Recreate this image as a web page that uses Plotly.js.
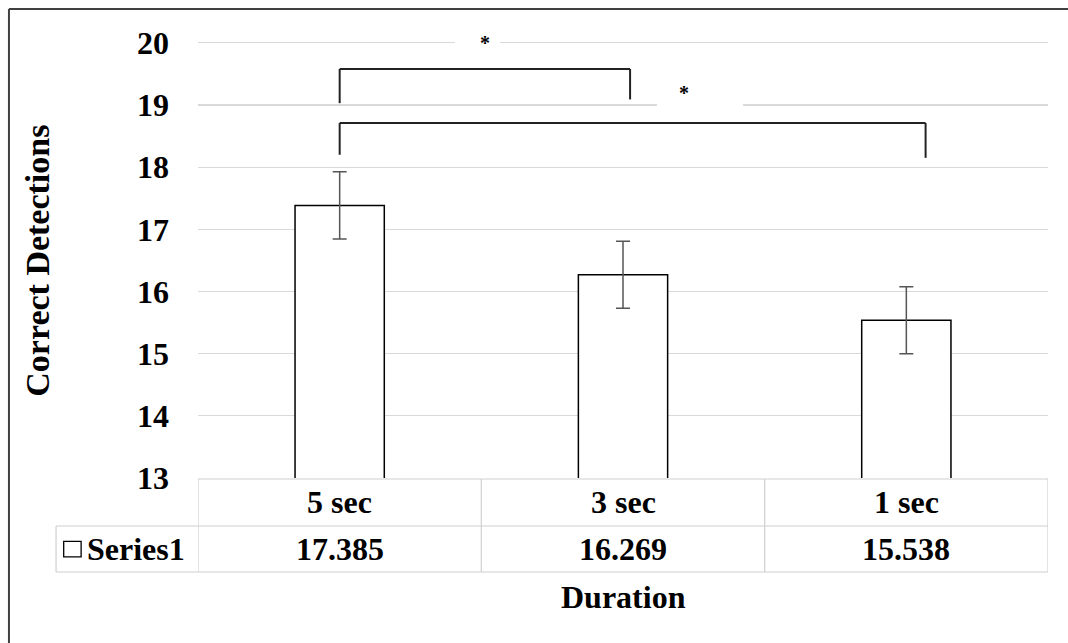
<!DOCTYPE html>
<html>
<head>
<meta charset="utf-8">
<script src="https://cdn.plot.ly/plotly-3.0.1.min.js"></script>
<style>html,body{margin:0;padding:0;background:#fff;}#chart{width:1068px;height:643px;}</style>
</head>
<body>
<div id="chart"></div>
<script>
// ---- data ----
const categories = ['5 sec', '3 sec', '1 sec'];
const means = [17.385, 16.269, 15.538];
const errors = [0.54, 0.54, 0.54];
const yTickVals = [13, 14, 15, 16, 17, 18, 19, 20];
const seriesName = 'Series1';
const yTitle = 'Correct Detections';
const xTitle = 'Duration';
// significance brackets: from category index a to b (drawn at these y levels), star label
const bracketFrom = [0, 0];
const bracketTo = [1.025, 2.068];
const bracketTop = [19.58, 18.71];
const bracketLeftEnd = [19.03, 18.2];
const bracketRightEnd = [19.09, 18.15];
const starText = ['*', '*'];
const starX = [0.513, 1.215];
const starY = [20.0, 19.2];
const gapX0 = [0.407, 1.12];
const gapX1 = [0.566, 1.424];
const gapY = [20, 19];

const FONT = 'Times New Roman, Liberation Serif, serif';
const GRID = '#d9d9d9';
const TABLE = '#d0d0d0';

const trace = {
  type: 'bar',
  x: categories,
  y: means,
  width: 0.315,
  marker: {color: '#ffffff', line: {color: '#000000', width: 1.5}},
  error_y: {type: 'data', array: errors, visible: true, color: '#555555', thickness: 1.5, width: 7},
  hoverinfo: 'none',
  showlegend: false
};

const shapes = [];
const annotations = [];

// outer chart frame (left + top)
shapes.push({type: 'line', xref: 'paper', yref: 'paper', x0: -0.2224, x1: -0.2224, y0: 1.0732, y1: -0.38, line: {color: '#404040', width: 2}});
shapes.push({type: 'line', xref: 'paper', yref: 'paper', x0: -0.2224, x1: 1.03, y0: 1.0732, y1: 1.0732, line: {color: '#404040', width: 2}});

// gridline gaps behind stars
for (let i = 0; i < gapY.length; i++) {
  shapes.push({type: 'rect', xref: 'x', yref: 'y', layer: 'between', x0: gapX0[i], x1: gapX1[i], y0: gapY[i] - 0.06, y1: gapY[i] + 0.025, fillcolor: '#ffffff', line: {width: 0}});
}

// brackets
for (let i = 0; i < bracketFrom.length; i++) {
  const ln = {color: '#222222', width: 2};
  shapes.push({type: 'line', xref: 'x', yref: 'y', x0: bracketFrom[i], x1: bracketFrom[i], y0: bracketLeftEnd[i], y1: bracketTop[i], line: ln});
  shapes.push({type: 'line', xref: 'x', yref: 'y', x0: bracketFrom[i], x1: bracketTo[i], y0: bracketTop[i], y1: bracketTop[i], line: ln});
  shapes.push({type: 'line', xref: 'x', yref: 'y', x0: bracketTo[i], x1: bracketTo[i], y0: bracketTop[i], y1: bracketRightEnd[i], line: ln});
  annotations.push({xref: 'x', yref: 'y', x: starX[i], y: starY[i], text: '<b>' + starText[i] + '</b>', showarrow: false, font: {family: FONT, size: 20, color: '#000'}, xanchor: 'center', yanchor: 'middle'});
}

// data table
const rowTop = -0.0023, rowMid = -0.1098, rowBot = -0.2151, labLeft = -0.167;
const tl = {color: TABLE, width: 1.2};
shapes.push({type: 'line', xref: 'paper', yref: 'paper', x0: 0, x1: 1, y0: rowTop, y1: rowTop, line: tl});
shapes.push({type: 'line', xref: 'paper', yref: 'paper', x0: labLeft, x1: 1, y0: rowMid, y1: rowMid, line: tl});
shapes.push({type: 'line', xref: 'paper', yref: 'paper', x0: labLeft, x1: 1, y0: rowBot, y1: rowBot, line: tl});
shapes.push({type: 'line', xref: 'paper', yref: 'paper', x0: labLeft, x1: labLeft, y0: rowMid, y1: rowBot, line: tl});
for (let i = 0; i <= categories.length; i++) {
  shapes.push({type: 'line', xref: 'x', yref: 'paper', x0: i - 0.5, x1: i - 0.5, y0: rowTop, y1: rowBot, line: tl});
}
categories.forEach((c, i) => {
  annotations.push({xref: 'x', yref: 'paper', x: i, y: (rowTop + rowMid) / 2, text: '<b>' + c + '</b>', showarrow: false, font: {family: FONT, size: 32, color: '#000'}, xanchor: 'center', yanchor: 'middle'});
  annotations.push({xref: 'x', yref: 'paper', x: i, y: (rowMid + rowBot) / 2, text: '<b>' + means[i].toFixed(3) + '</b>', showarrow: false, font: {family: FONT, size: 32, color: '#000'}, xanchor: 'center', yanchor: 'middle'});
});
// legend key square + series name
shapes.push({type: 'rect', xref: 'paper', yref: 'paper', x0: -0.158, x1: -0.1375, y0: -0.1448, y1: -0.1803, fillcolor: '#ffffff', line: {color: '#000', width: 1.3}});
annotations.push({xref: 'paper', yref: 'paper', x: -0.1325, y: (rowMid + rowBot) / 2, text: '<b>' + seriesName + '</b>', showarrow: false, font: {family: FONT, size: 32, color: '#000'}, xanchor: 'left', yanchor: 'middle'});

// axis titles
annotations.push({xref: 'paper', yref: 'paper', x: 0.5, y: -0.2723, text: '<b>' + xTitle + '</b>', showarrow: false, font: {family: FONT, size: 32, color: '#000'}, xanchor: 'center', yanchor: 'middle'});
annotations.push({xref: 'paper', yref: 'paper', x: -0.189, y: 0.498, text: '<b>' + yTitle + '</b>', textangle: -90, showarrow: false, font: {family: FONT, size: 34, color: '#000'}, xanchor: 'center', yanchor: 'middle'});

const layout = {
  width: 1068, height: 643,
  margin: {l: 198, r: 20, t: 41, b: 165},
  paper_bgcolor: '#ffffff', plot_bgcolor: '#ffffff',
  showlegend: false,
  bargap: 0,
  xaxis: {type: 'category', range: [-0.5, 2.5], showticklabels: false, showgrid: false, zeroline: false, showline: false, ticks: '', fixedrange: true},
  yaxis: {range: [13, 20.03], tickvals: yTickVals, ticktext: yTickVals.map(v => '<b>' + v + '</b>'), showgrid: true, gridcolor: GRID, gridwidth: 1.2, zeroline: false, showline: false, ticks: '', ticklabelstandoff: 28, tickfont: {family: FONT, size: 32, color: '#000'}, fixedrange: true},
  shapes: shapes,
  annotations: annotations
};

Plotly.newPlot('chart', [trace], layout, {displayModeBar: false, staticPlot: true});
</script>
</body>
</html>
